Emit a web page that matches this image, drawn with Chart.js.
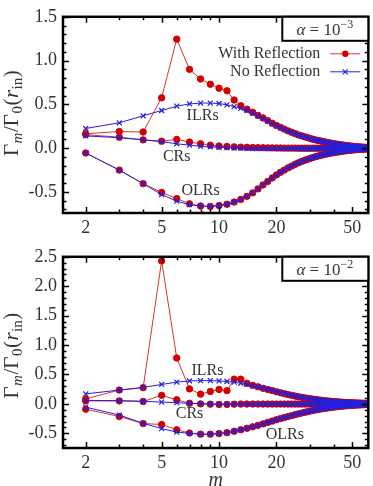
<!DOCTYPE html>
<html><head><meta charset="utf-8">
<script src="https://cdn.jsdelivr.net/npm/chart.js@4.4.1/dist/chart.umd.min.js"></script>
<style>
html,body{margin:0;padding:0;background:#fff;width:373px;height:486px;overflow:hidden}
canvas{position:absolute;left:0;display:block}
#c1{top:0}#c2{top:240px}
</style></head><body>
<canvas id="c1" width="373" height="240"></canvas>
<canvas id="c2" width="373" height="246"></canvas>
<script>
// ---------- data ----------
const mValues = [2,3,4,5,6,7,8,9,10,11,12,13,14,15,16,17,18,19,20,21,22,23,24,25,26,27,28,29,30,31,32,33,34,35,36,37,38,39,40,41,42,43,44,45,46,47,48,49,50,51,52,53,54,55,56,57,58,59,60];

// alpha = 1e-3 (top panel)
const ilrNoRefl3 = [0.225,0.29,0.37,0.43,0.48,0.505,0.515,0.515,0.51,0.495,0.475,0.455,0.43,0.40,0.37,0.34,0.31,0.28,0.255,0.235,0.215,0.195,0.18,0.165,0.15,0.14,0.13,0.12,0.11,0.10,0.094,0.088,0.082,0.076,0.07,0.064,0.059,0.054,0.05,0.046,0.043,0.04,0.036,0.033,0.03,0.028,0.025,0.023,0.021,0.019,0.017,0.016,0.014,0.013,0.012,0.011,0.01,0.009,0.008];
const ilrRefl3   = [0.165,0.19,0.185,0.575,1.245,0.90,0.79,0.73,0.685,0.655,0.55,0.485,0.445,0.41,0.375,0.345,0.315,0.285,0.26,0.238,0.218,0.198,0.182,0.167,0.152,0.142,0.132,0.122,0.112,0.102,0.095,0.089,0.083,0.077,0.071,0.065,0.06,0.055,0.051,0.047,0.044,0.041,0.037,0.034,0.031,0.029,0.026,0.024,0.022,0.02,0.018,0.016,0.015,0.013,0.012,0.011,0.01,0.009,0.008];
const crNoRefl3  = [0.14,0.12,0.095,0.075,0.05,0.035,0.02,0.015,0.01,0.005,0.002,0.0,-0.002,-0.004,-0.005,-0.005,-0.005,-0.005,-0.005,-0.005,-0.005,-0.005,-0.005,-0.005,-0.004,-0.004,-0.004,-0.004,-0.004,-0.003,-0.003,-0.003,-0.003,-0.003,-0.003,-0.002,-0.002,-0.002,-0.002,-0.002,-0.002,-0.002,-0.002,-0.002,-0.001,-0.001,-0.001,-0.001,-0.001,-0.001,-0.001,-0.001,-0.001,-0.001,-0.001,-0.001,-0.001,-0.001,-0.001];
const crRefl3    = [0.155,0.125,0.095,0.08,0.10,0.07,0.05,0.035,0.025,0.02,0.015,0.012,0.01,0.008,0.006,0.005,0.004,0.003,0.002,0.002,0.001,0.001,0.001,0.001,0.0,0.0,0.0,0.0,0.0,0.0,0.0,0.0,0.0,0.0,0.0,0.0,0.0,0.0,0.0,0.0,0.0,0.0,0.0,0.0,0.0,0.0,0.0,0.0,0.0,0.0,0.0,0.0,0.0,0.0,0.0,0.0,0.0,0.0,0.0];
const olrNoRefl3 = [-0.055,-0.25,-0.405,-0.53,-0.605,-0.645,-0.66,-0.665,-0.655,-0.64,-0.615,-0.585,-0.55,-0.51,-0.465,-0.42,-0.38,-0.34,-0.305,-0.275,-0.25,-0.225,-0.205,-0.185,-0.168,-0.153,-0.14,-0.128,-0.117,-0.107,-0.098,-0.09,-0.083,-0.076,-0.07,-0.064,-0.059,-0.054,-0.05,-0.046,-0.043,-0.04,-0.036,-0.033,-0.03,-0.028,-0.025,-0.023,-0.021,-0.019,-0.017,-0.016,-0.014,-0.013,-0.012,-0.011,-0.01,-0.009,-0.008];
const olrRefl3   = [-0.055,-0.25,-0.405,-0.505,-0.575,-0.635,-0.66,-0.665,-0.655,-0.64,-0.615,-0.585,-0.55,-0.51,-0.465,-0.42,-0.38,-0.34,-0.305,-0.275,-0.25,-0.225,-0.205,-0.185,-0.168,-0.153,-0.14,-0.128,-0.117,-0.107,-0.098,-0.09,-0.083,-0.076,-0.07,-0.064,-0.059,-0.054,-0.05,-0.046,-0.043,-0.04,-0.036,-0.033,-0.03,-0.028,-0.025,-0.023,-0.021,-0.019,-0.017,-0.016,-0.014,-0.013,-0.012,-0.011,-0.01,-0.009,-0.008];

// alpha = 1e-2 (bottom panel)
const ilrNoRefl2 = [0.17,0.235,0.28,0.33,0.37,0.39,0.395,0.395,0.39,0.38,0.37,0.35,0.33,0.31,0.29,0.27,0.25,0.23,0.21,0.192,0.176,0.161,0.147,0.135,0.124,0.114,0.105,0.097,0.089,0.082,0.076,0.07,0.064,0.059,0.055,0.051,0.047,0.043,0.04,0.037,0.034,0.032,0.029,0.027,0.025,0.023,0.021,0.02,0.018,0.017,0.015,0.014,0.013,0.012,0.011,0.01,0.009,0.009,0.008];
const ilrRefl2   = [0.085,0.235,0.275,2.43,0.78,0.255,0.165,0.21,0.245,0.225,0.42,0.42,0.35,0.315,0.29,0.265,0.245,0.225,0.205,0.188,0.172,0.158,0.145,0.133,0.122,0.112,0.103,0.095,0.088,0.081,0.075,0.069,0.063,0.058,0.054,0.05,0.046,0.042,0.039,0.036,0.033,0.031,0.028,0.026,0.024,0.022,0.021,0.019,0.018,0.016,0.015,0.014,0.013,0.012,0.011,0.01,0.009,0.008,0.008];
const crNoRefl2  = [0.06,0.055,0.045,0.03,0.02,0.01,0.005,0.0,-0.004,-0.005,-0.005,-0.005,-0.005,-0.005,-0.005,-0.005,-0.005,-0.005,-0.005,-0.005,-0.005,-0.005,-0.005,-0.005,-0.004,-0.004,-0.004,-0.004,-0.004,-0.003,-0.003,-0.003,-0.003,-0.003,-0.003,-0.002,-0.002,-0.002,-0.002,-0.002,-0.002,-0.002,-0.002,-0.002,-0.001,-0.001,-0.001,-0.001,-0.001,-0.001,-0.001,-0.001,-0.001,-0.001,-0.001,-0.001,-0.001,-0.001,-0.001];
const crRefl2    = [0.05,0.05,0.04,0.145,0.07,0.01,0.0,-0.005,-0.01,-0.01,-0.005,-0.003,-0.003,-0.003,-0.003,-0.003,-0.003,-0.003,-0.003,-0.003,-0.003,-0.003,-0.003,-0.003,-0.003,-0.003,-0.003,-0.002,-0.002,-0.002,-0.002,-0.002,-0.002,-0.002,-0.002,-0.002,-0.002,-0.002,-0.002,-0.002,-0.001,-0.001,-0.001,-0.001,-0.001,-0.001,-0.001,-0.001,-0.001,-0.001,-0.001,-0.001,-0.001,-0.001,-0.001,-0.001,-0.001,-0.001,-0.001];
const olrNoRefl2 = [-0.055,-0.19,-0.33,-0.42,-0.48,-0.50,-0.515,-0.515,-0.505,-0.49,-0.465,-0.44,-0.415,-0.39,-0.365,-0.34,-0.315,-0.292,-0.27,-0.25,-0.232,-0.215,-0.199,-0.184,-0.17,-0.157,-0.145,-0.134,-0.123,-0.113,-0.104,-0.096,-0.088,-0.081,-0.075,-0.069,-0.063,-0.058,-0.054,-0.05,-0.046,-0.042,-0.039,-0.036,-0.033,-0.03,-0.028,-0.026,-0.024,-0.022,-0.02,-0.018,-0.017,-0.016,-0.014,-0.013,-0.012,-0.011,-0.01];
const olrRefl2   = [-0.09,-0.215,-0.335,-0.35,-0.44,-0.495,-0.515,-0.515,-0.505,-0.49,-0.465,-0.44,-0.415,-0.39,-0.365,-0.34,-0.315,-0.292,-0.27,-0.25,-0.232,-0.215,-0.199,-0.184,-0.17,-0.157,-0.145,-0.134,-0.123,-0.113,-0.104,-0.096,-0.088,-0.081,-0.075,-0.069,-0.063,-0.058,-0.054,-0.05,-0.046,-0.042,-0.039,-0.036,-0.033,-0.03,-0.028,-0.026,-0.024,-0.022,-0.02,-0.018,-0.017,-0.016,-0.014,-0.013,-0.012,-0.011,-0.01];

const xTickLabels = [2,5,10,20,50];
const xMinorTicks = [2,3,4,5,6,7,8,9,10,20,30,40,50,60];
const yTicksTop = [-0.5,0.0,0.5,1.0,1.5];
const yTicksBottom = [-0.5,0.0,0.5,1.0,1.5,2.0,2.5];
const legendLabels = ['With Reflection','No Reflection'];
const regionLabels = ['ILRs','CRs','OLRs'];
const regionPosTop = [[8.2,0.37],[6.0,-0.10],[8.0,-0.487]];
const regionPosBottom = [[8.7,0.57],[7.0,-0.175],[22.1,-0.527]];
const alphaExpTop = '\u22123', alphaExpBottom = '\u22122';

// ---------- styling ----------
const RED = '#d40000', RED_LINE = '#e03030', BLUE = '#2020dd';
const SERIF = '"Liberation Serif", "DejaVu Serif", serif';
const TXT = '#333';

function toXY(arr){ return mValues.map((m,i)=>({x:m,y:arr[i]})); }
function redSet(arr){ return {data:toXY(arr), borderColor:RED_LINE, backgroundColor:RED, pointBorderColor:RED, pointBackgroundColor:RED, borderWidth:1, pointRadius:3.2, pointHoverRadius:3.2, pointStyle:'circle', order:2}; }
function blueSet(arr){ return {data:toXY(arr), borderColor:BLUE, backgroundColor:BLUE, pointBorderColor:BLUE, borderWidth:1, pointBorderWidth:1.2, pointRadius:3.5, pointHoverRadius:3.5, pointStyle:'crossRot', order:1}; }

const framePlugin = {
  id:'frame',
  afterDraw(chart, args, o){
    const {ctx, chartArea:a} = chart;
    const xs = chart.scales.x, ys = chart.scales.y;
    ctx.save();
    ctx.strokeStyle = '#000';
    // ticks
    ctx.lineWidth = 1.5;
    ctx.beginPath();
    xMinorTicks.forEach(v=>{
      const px = Math.round(xs.getPixelForValue(v))+0.5;
      if (px < a.left || px > a.right) return;
      const L = xTickLabels.includes(v) ? 6 : 3.5;
      ctx.moveTo(px, a.bottom); ctx.lineTo(px, a.bottom - L);
      ctx.moveTo(px, a.top); ctx.lineTo(px, a.top + L);
    });
    const ymin = ys.min, ymax = ys.max;
    for (let k = Math.ceil(ymin*10-1e-6); k <= Math.floor(ymax*10+1e-6); k++){
      const v = k/10;
      const py = Math.round(ys.getPixelForValue(v))+0.5;
      const major = (k % 5 === 0);
      const L = major ? 6 : 3.5;
      ctx.moveTo(a.left, py); ctx.lineTo(a.left + L, py);
      ctx.moveTo(a.right, py); ctx.lineTo(a.right - L, py);
    }
    ctx.stroke();
    // frame
    ctx.lineWidth = 2.5;
    ctx.strokeRect(a.left, a.top, a.right-a.left, a.bottom-a.top);
    // region labels
    ctx.font = '16px ' + SERIF;
    ctx.fillStyle = TXT;
    ctx.textAlign = 'center'; ctx.textBaseline = 'middle';
    o.regions.forEach((p,i)=>{
      ctx.fillText(regionLabels[i], xs.getPixelForValue(p[0]), ys.getPixelForValue(p[1]));
    });
    // alpha box
    const bw = 87, bh = 24;
    const bx = a.right - bw, by = a.top;
    ctx.fillStyle = '#fff';
    ctx.fillRect(bx, by, bw, bh);
    ctx.lineWidth = 2;
    ctx.strokeRect(bx+1, by, bw-1, bh);
    ctx.fillStyle = TXT;
    ctx.textAlign = 'left'; ctx.textBaseline = 'alphabetic';
    const base = by + 18;
    let parts = [{t:'\u03b1', f:'italic 17px '+SERIF, dy:0},{t:' = 10', f:'17px '+SERIF, dy:0},{t:o.alphaExp, f:'12px '+SERIF, dy:-7}];
    let tw = 0; parts.forEach(p=>{ctx.font=p.f; tw += ctx.measureText(p.t).width;});
    let cx = bx + (bw - tw)/2;
    parts.forEach(p=>{ctx.font=p.f; ctx.fillText(p.t, cx, base+p.dy); cx += ctx.measureText(p.t).width;});
    // legend
    if (o.legend){
      ctx.font = '16px ' + SERIF;
      ctx.textAlign = 'right'; ctx.textBaseline = 'middle';
      const rows = [a.top+37, a.top+55];
      const styles = [[RED_LINE, RED, 'circle'], [BLUE, BLUE, 'cross']];
      rows.forEach((y,i)=>{
        ctx.fillStyle = TXT;
        ctx.fillText(legendLabels[i], a.right-48, y);
        ctx.strokeStyle = styles[i][0]; ctx.lineWidth = 1;
        ctx.beginPath(); ctx.moveTo(a.right-38, y); ctx.lineTo(a.right-8, y); ctx.stroke();
        const mx = a.right-23;
        if (styles[i][2]==='circle'){
          ctx.fillStyle = RED; ctx.beginPath(); ctx.arc(mx, y, 3.2, 0, Math.PI*2); ctx.fill();
        } else {
          ctx.strokeStyle = BLUE; ctx.lineWidth = 1.2; ctx.beginPath();
          ctx.moveTo(mx-2.5,y-2.5); ctx.lineTo(mx+2.5,y+2.5); ctx.moveTo(mx-2.5,y+2.5); ctx.lineTo(mx+2.5,y-2.5); ctx.stroke();
        }
      });
    }
    // y axis title
    ctx.save();
    ctx.translate(18, (a.top+a.bottom)/2 + (o.titleShift||0));
    ctx.rotate(-Math.PI/2);
    ctx.fillStyle = TXT;
    ctx.textAlign = 'left'; ctx.textBaseline = 'alphabetic';
    const big = '21px '+SERIF, bigI = 'italic 21px '+SERIF, sm = '15px '+SERIF, smI = 'italic 15px '+SERIF;
    parts = [{t:'\u0393',f:big,dy:0},{t:'m',f:smI,dy:4},{t:'/\u0393',f:big,dy:0},{t:'0',f:sm,dy:4},{t:'(',f:big,dy:0},{t:'r',f:bigI,dy:0},{t:'in',f:sm,dy:4},{t:')',f:big,dy:0}];
    tw = 0; parts.forEach(p=>{ctx.font=p.f; tw += ctx.measureText(p.t).width;});
    cx = -tw/2;
    parts.forEach(p=>{ctx.font=p.f; ctx.fillText(p.t, cx, p.dy); cx += ctx.measureText(p.t).width + 0.5;});
    ctx.restore();
    ctx.restore();
  }
};

function makeChart(id, sets, yMin, yMax, yTicks, xHeight, padTop, showXTitle, pluginOpts){
  return new Chart(document.getElementById(id), {
    type:'line',
    data:{datasets:sets},
    options:{
      responsive:false, animation:false, devicePixelRatio:1,
      layout:{padding:{top:padTop, right:3, left:0, bottom:0}},
      plugins:{legend:{display:false}, tooltip:{enabled:false}, frame:pluginOpts},
      scales:{
        x:{type:'logarithmic', min:1.52, max:60.6,
           grid:{display:false, drawTicks:false}, border:{display:false},
           ticks:{font:{family:SERIF, size:18}, color:TXT, padding:4, autoSkip:false, maxRotation:0, callback:(v)=>String(v)},
           afterBuildTicks:(s)=>{ s.ticks = xTickLabels.map(v=>({value:v})); },
           afterFit:(s)=>{ s.height = xHeight; },
           title:{display:showXTitle, text:'m', font:{family:SERIF, size:20, style:'italic'}, color:TXT, padding:{top:0,bottom:-7}}
        },
        y:{type:'linear', min:yMin, max:yMax,
           grid:{display:false, drawTicks:false}, border:{display:false},
           ticks:{font:{family:SERIF, size:18}, color:TXT, padding:6, callback:(v)=>Number(v).toFixed(1)},
           afterBuildTicks:(s)=>{ s.ticks = yTicks.map(v=>({value:v})); },
           afterFit:(s)=>{ s.width = 63; }
        }
      }
    },
    plugins:[framePlugin]
  });
}

makeChart('c1', [blueSet(ilrNoRefl3), redSet(ilrRefl3), blueSet(crNoRefl3), redSet(crRefl3), blueSet(olrNoRefl3), redSet(olrRefl3)],
  -0.74, 1.5, yTicksTop, 27, 8, false, {legend:true, regions:regionPosTop, alphaExp:alphaExpTop});
makeChart('c2', [blueSet(ilrNoRefl2), redSet(ilrRefl2), blueSet(crNoRefl2), redSet(crRefl2), blueSet(olrNoRefl2), redSet(olrRefl2)],
  -0.75, 2.5, yTicksBottom, 38, 3, true, {legend:false, regions:regionPosBottom, alphaExp:alphaExpBottom, titleShift:5});
</script>
</body></html>
